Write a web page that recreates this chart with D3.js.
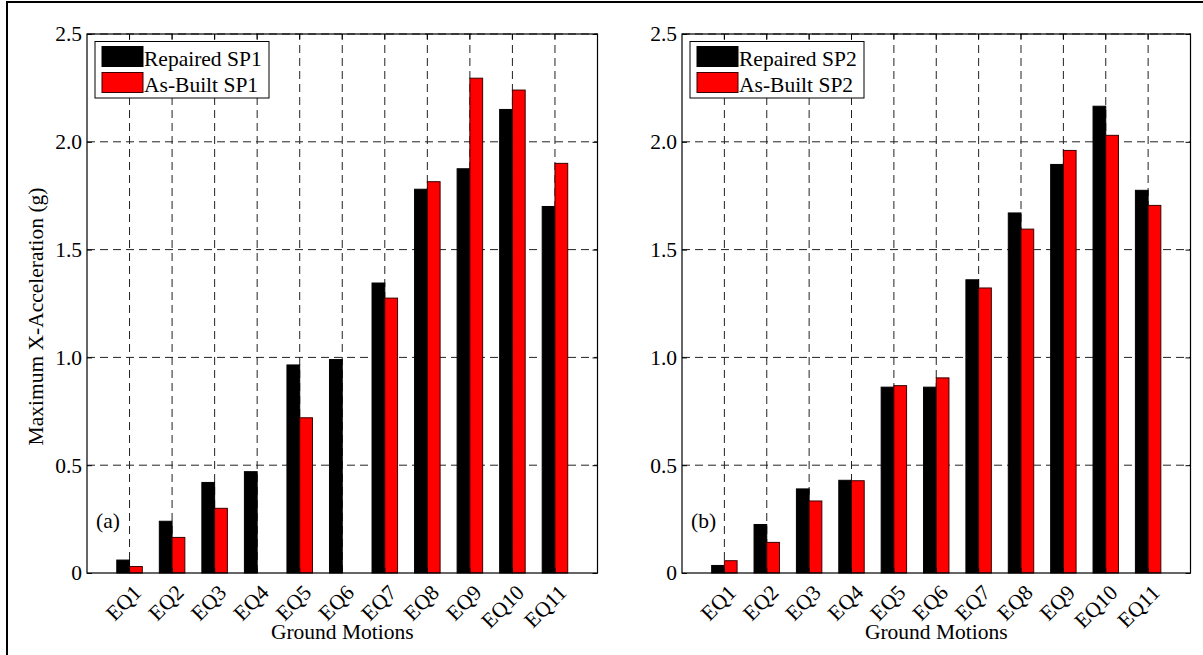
<!DOCTYPE html>
<html>
<head>
<meta charset="utf-8">
<script src="https://cdn.jsdelivr.net/npm/d3@7"></script>
<style>
  html, body { margin: 0; padding: 0; background: #fff; }
  svg { display: block; font-family: "Liberation Serif", "Times New Roman", serif; }
</style>
</head>
<body>
<svg id="fig" width="1203" height="655"></svg>
<script>
// Ground motion labels
const categories = ["EQ1", "EQ2", "EQ3", "EQ4", "EQ5", "EQ6", "EQ7", "EQ8", "EQ9", "EQ10", "EQ11"];

// Maximum X-acceleration (g), specimen SP1
const repairedSP1 = [0.06, 0.24, 0.42, 0.47, 0.965, 0.99, 1.345, 1.78, 1.875, 2.15, 1.70];
const asBuiltSP1  = [0.03, 0.165, 0.30, 0, 0.72, 0, 1.275, 1.815, 2.295, 2.24, 1.90];

// Maximum X-acceleration (g), specimen SP2
const repairedSP2 = [0.035, 0.225, 0.39, 0.43, 0.862, 0.862, 1.36, 1.67, 1.895, 2.165, 1.775];
const asBuiltSP2  = [0.057, 0.142, 0.334, 0.428, 0.869, 0.905, 1.322, 1.595, 1.96, 2.03, 1.705];

// Y axis ticks
const yTicks = [0, 0.5, 1.0, 1.5, 2.0, 2.5];
const yTickLabels = ["0", "0.5", "1.0", "1.5", "2.0", "2.5"];

const seriesColors = ["#000000", "#ff0000"];
const seriesStroke = ["#000000", "#3a0000"];
const fontSize = 21.5;

const svg = d3.select("#fig");

// Outer figure frame (left and top edges visible)
svg.append("rect")
  .attr("x", 7).attr("y", 2)
  .attr("width", 1400).attr("height", 900)
  .attr("fill", "none").attr("stroke", "#000").attr("stroke-width", 2);

const panels = [
  { left: 87,  right: 597.5,  series: [repairedSP1, asBuiltSP1], names: ["Repaired SP1", "As-Built SP1"], tag: "(a)", ylabel: true },
  { left: 682, right: 1190.5, series: [repairedSP2, asBuiltSP2], names: ["Repaired SP2", "As-Built SP2"], tag: "(b)", ylabel: false }
];

const plotTop = 34, plotBottom = 573;
const barW = 0.3; // bar width in category units

panels.forEach(p => {
  const g = svg.append("g");
  const x = d3.scaleLinear().domain([0, categories.length + 1]).range([p.left, p.right]);
  const y = d3.scaleLinear().domain([0, 2.5]).range([plotBottom, plotTop]);

  // Dashed grid
  g.append("g").selectAll("line").data(yTicks.slice(1)).join("line")
    .attr("x1", p.left).attr("x2", p.right)
    .attr("y1", d => y(d)).attr("y2", d => y(d))
    .attr("stroke", "#222").attr("stroke-width", 1).attr("stroke-dasharray", "8,5");
  g.append("g").selectAll("line").data(categories).join("line")
    .attr("x1", (d, i) => x(i + 1)).attr("x2", (d, i) => x(i + 1))
    .attr("y1", plotBottom).attr("y2", plotTop)
    .attr("stroke", "#222").attr("stroke-width", 1).attr("stroke-dasharray", "8,5");

  // Grouped bars
  p.series.forEach((vals, s) => {
    g.append("g").selectAll("rect").data(vals.map((v, i) => ({ v, i })).filter(d => d.v > 0)).join("rect")
      .attr("x", d => x(d.i + 1 + (s === 0 ? -barW : 0)))
      .attr("width", d => x(barW) - x(0))
      .attr("y", d => y(d.v))
      .attr("height", d => y(0) - y(d.v))
      .attr("fill", seriesColors[s])
      .attr("stroke", seriesStroke[s]).attr("stroke-width", 1);
  });

  // Axes box
  g.append("rect")
    .attr("x", p.left).attr("y", plotTop)
    .attr("width", p.right - p.left).attr("height", plotBottom - plotTop)
    .attr("fill", "none").attr("stroke", "#000").attr("stroke-width", 1.2);

  // Y axis ticks (inward) and labels
  const yAxis = d3.axisLeft(y).tickValues(yTicks)
    .tickFormat((d, i) => yTickLabels[i]).tickSizeInner(-5).tickSizeOuter(0).tickPadding(5);
  const ya = g.append("g").attr("transform", `translate(${p.left},0)`).call(yAxis);
  ya.select(".domain").remove();
  ya.selectAll("text").attr("font-size", fontSize).attr("fill", "#000")
    .attr("font-family", "Liberation Serif, Times New Roman, serif");
  ya.selectAll("line").attr("stroke", "#000");
  const yAxisR = d3.axisRight(y).tickValues(yTicks).tickFormat("").tickSizeInner(-5).tickSizeOuter(0);
  const yr = g.append("g").attr("transform", `translate(${p.right},0)`).call(yAxisR);
  yr.select(".domain").remove();
  yr.selectAll("line").attr("stroke", "#000");

  // X axis ticks (inward), rotated labels
  const xa = g.append("g");
  xa.append("g").selectAll("line").data(categories).join("line")
    .attr("x1", (d, i) => x(i + 1)).attr("x2", (d, i) => x(i + 1))
    .attr("y1", plotBottom).attr("y2", plotBottom - 5).attr("stroke", "#000");
  xa.append("g").selectAll("line").data(categories).join("line")
    .attr("x1", (d, i) => x(i + 1)).attr("x2", (d, i) => x(i + 1))
    .attr("y1", plotTop).attr("y2", plotTop + 5).attr("stroke", "#000");
  xa.append("g").selectAll("text").data(categories).join("text")
    .attr("transform", (d, i) => `translate(${x(i + 1) + 13},${594}) rotate(-45)`)
    .attr("text-anchor", "end")
    .attr("font-size", fontSize).attr("fill", "#000")
    .text(d => d);

  // Axis titles
  g.append("text")
    .attr("x", (p.left + p.right) / 2).attr("y", 639)
    .attr("text-anchor", "middle").attr("font-size", fontSize).attr("fill", "#000")
    .text("Ground Motions");
  if (p.ylabel) {
    g.append("text")
      .attr("transform", `translate(43,${(plotTop + plotBottom) / 2 + 13}) rotate(-90)`)
      .attr("text-anchor", "middle").attr("font-size", fontSize).attr("fill", "#000")
      .text("Maximum X-Acceleration (g)");
  }

  // Panel tag
  g.append("text")
    .attr("x", p.left + 9).attr("y", 528)
    .attr("font-size", fontSize).attr("fill", "#000")
    .text(p.tag);

  // Legend
  const lg = g.append("g").attr("transform", `translate(${p.left + 8},${41.5})`);
  lg.append("rect").attr("x", 0).attr("y", 0).attr("width", 174).attr("height", 56.5)
    .attr("fill", "#fff").attr("stroke", "#000").attr("stroke-width", 1);
  p.names.forEach((name, s) => {
    lg.append("rect").attr("x", 7).attr("y", 5 + s * 26).attr("width", 41).attr("height", 20)
      .attr("fill", seriesColors[s]).attr("stroke", seriesStroke[s]).attr("stroke-width", 1);
    lg.append("text").attr("x", 49).attr("y", 24 + s * 26)
      .attr("font-size", fontSize).attr("fill", "#000").text(name);
  });
});
</script>
</body>
</html>
